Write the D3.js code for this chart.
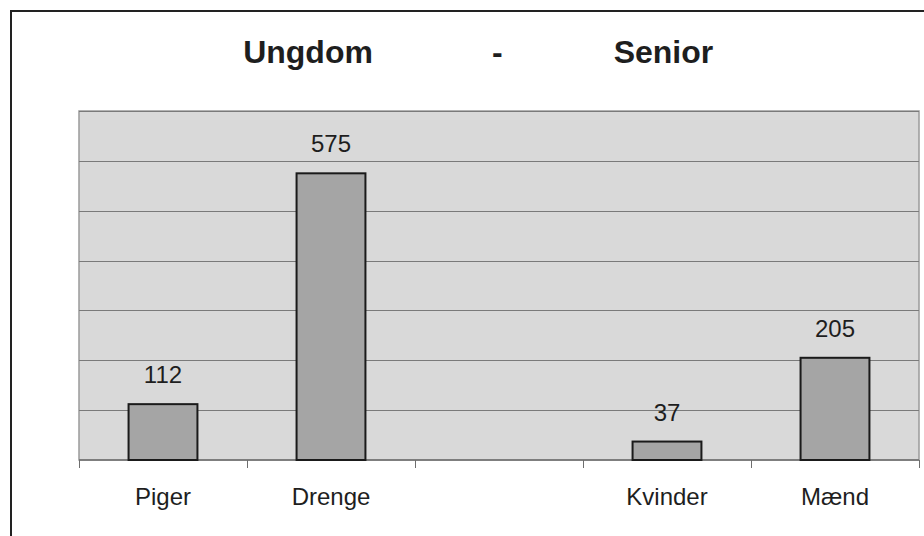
<!DOCTYPE html>
<html>
<head>
<meta charset="utf-8">
<script src="https://cdn.jsdelivr.net/npm/d3@7"></script>
<style>
  body { margin: 0; background: #fff; }
  text { font-family: "Liberation Sans", Arial, sans-serif; fill: #1e1e1e; }
</style>
</head>
<body>
<script>
let width = 924;
let height = 536;

// chart data
let categories = ['Piger', 'Drenge', '', 'Kvinder', 'Mænd'];
let values = [112, 575, null, 37, 205];
let titleParts = ['Ungdom', '-', 'Senior'];
let yTicks = [0, 100, 200, 300, 400, 500, 600, 700];

let plot = { left: 79, top: 111, right: 919, bottom: 460 };

let svg = d3.select('body').append('svg')
	.attr('width', width)
	.attr('height', height);

// outer frame
svg.append('rect')
	.attr('x', 11)
	.attr('y', 11)
	.attr('width', width)
	.attr('height', height)
	.style('fill', '#fff')
	.style('stroke', '#222')
	.style('stroke-width', 2);

let x = d3.scaleBand()
	.domain(d3.range(categories.length))
	.range([plot.left, plot.right])
	.padding(0);

let y = d3.scaleLinear()
	.domain([0, 700])
	.range([plot.bottom, plot.top]);

// plot background
svg.append('rect')
	.attr('x', plot.left)
	.attr('y', plot.top)
	.attr('width', plot.right - plot.left)
	.attr('height', plot.bottom - plot.top)
	.style('fill', '#d9d9d9')
	.style('stroke', '#9a9a9a')
	.style('stroke-width', 1.5);

// gridlines
svg.append('g')
	.selectAll('line')
	.data(yTicks.slice(1))
	.enter().append('line')
	.attr('x1', plot.left)
	.attr('x2', plot.right)
	.attr('y1', d => Math.round(y(d)) + 0.5)
	.attr('y2', d => Math.round(y(d)) + 0.5)
	.style('stroke', '#7a7a7a')
	.style('stroke-width', 1);

// x axis with ticks between categories
let xAxis = svg.append('g')
	.attr('transform', 'translate(0,' + plot.bottom + ')');

xAxis.append('line')
	.attr('x1', plot.left)
	.attr('x2', plot.right)
	.style('stroke', '#6e6e6e')
	.style('stroke-width', 1.5);

let tickXs = categories.map((c, i) => x(i)).concat([plot.right]);
xAxis.selectAll('.tick')
	.data(tickXs)
	.enter().append('line')
	.attr('class', 'tick')
	.attr('x1', d => Math.round(d) + 0.5)
	.attr('x2', d => Math.round(d) + 0.5)
	.attr('y1', 0)
	.attr('y2', 8)
	.style('stroke', '#6e6e6e')
	.style('stroke-width', 1);

xAxis.selectAll('.cat')
	.data(categories)
	.enter().append('text')
	.attr('class', 'cat')
	.attr('x', (d, i) => x(i) + x.bandwidth() / 2)
	.attr('y', 45)
	.attr('text-anchor', 'middle')
	.style('font-size', '24px')
	.text(d => d);

// bars
let barW = x.bandwidth() * 0.41;
let bars = categories.map((c, i) => ({ i: i, v: values[i] })).filter(d => d.v != null);

svg.append('g')
	.selectAll('rect')
	.data(bars)
	.enter().append('rect')
	.attr('x', d => x(d.i) + (x.bandwidth() - barW) / 2)
	.attr('y', d => y(d.v))
	.attr('width', barW)
	.attr('height', d => y(0) - y(d.v))
	.style('fill', '#a5a5a5')
	.style('stroke', '#1a1a1a')
	.style('stroke-width', 2);

svg.append('g')
	.selectAll('text')
	.data(bars)
	.enter().append('text')
	.attr('x', d => x(d.i) + x.bandwidth() / 2)
	.attr('y', d => y(d.v) - 21)
	.attr('text-anchor', 'middle')
	.style('font-size', '24px')
	.text(d => d.v);

// title
let titleX = [308, 493, 659];
svg.append('text')
	.attr('y', 63)
	.style('font-size', '32px')
	.style('font-weight', 'bold')
	.selectAll('tspan')
	.data(titleParts)
	.enter().append('tspan')
	.attr('x', (d, i) => titleX[i])
	.attr('text-anchor', 'middle')
	.text((d, i) => (i > 0 ? ' ' : '') + d);
</script>
</body>
</html>
